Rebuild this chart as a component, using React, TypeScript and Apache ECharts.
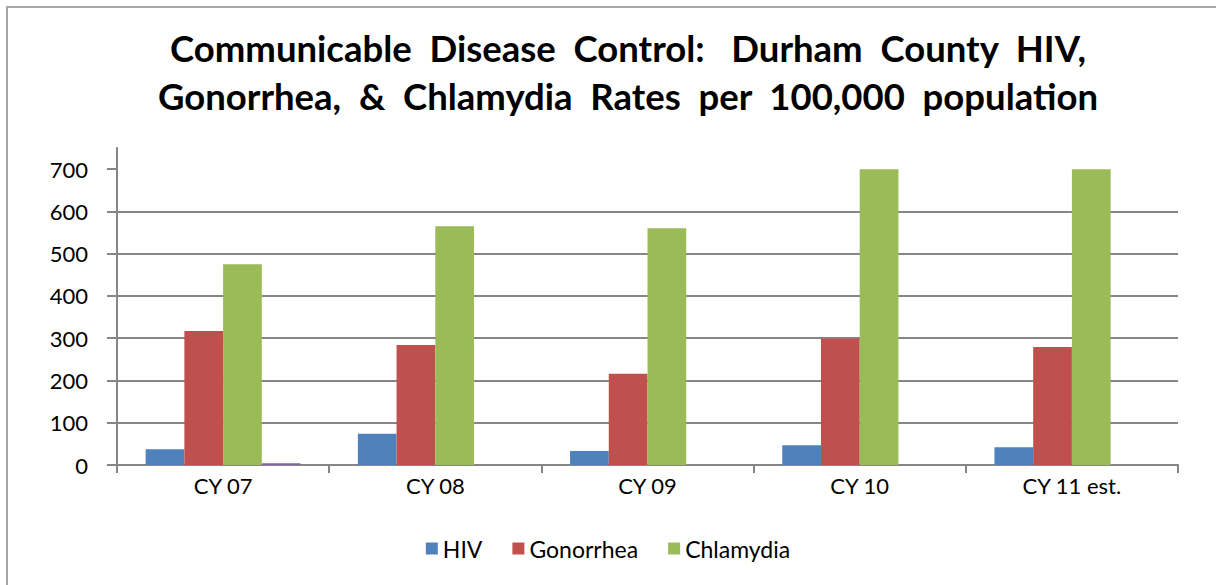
import React, { useEffect, useRef } from "react";
import * as echarts from "echarts";

const categories = ["CY 07", "CY 08", "CY 09", "CY 10", "CY 11 est."];
const hiv = [37, 74, 33, 47, 42];
const gonorrhea = [317, 284, 216, 299, 279];
const chlamydia = [475, 565, 560, 700, 700];
const other = [4, 0, 0, 0, 0];
const yTicks = [0, 100, 200, 300, 400, 500, 600, 700];

const FONT = "Lato, 'Open Sans', sans-serif";

export default function App() {
  const ref = useRef<HTMLDivElement>(null);
  useEffect(() => {
    document.body.style.margin = "0";
    if (!ref.current) return;
    const chart = echarts.init(ref.current, undefined, { renderer: "svg" });
    chart.setOption({
      animation: false,
      backgroundColor: "#ffffff",
      title: {
        text: "Communicable  Disease  Control:   Durham  County  HIV,\nGonorrhea,  &  Chlamydia  Rates  per  100,000  population",
        left: 623,
        textAlign: "center",
        top: 19,
        textStyle: {
          fontFamily: FONT,
          fontWeight: "bold",
          fontSize: 36.5,
          lineHeight: 48,
          color: "#000",
        },
      },
      graphic: [
        {
          type: "polyline",
          shape: { points: [[7, 600], [7, 7], [1230, 7]] },
          style: { stroke: "#a6a6a6", lineWidth: 2, fill: "none" },
          silent: true,
        },
      ],
      legend: {
        data: ["HIV", "Gonorrhea", "Chlamydia"],
        top: 532,
        left: "center",
        padding: [5, 0, 5, 14],
        itemWidth: 12,
        itemHeight: 12,
        itemGap: 30,
        icon: "rect",
        textStyle: { fontFamily: FONT, fontSize: 23, color: "#000" },
      },
      grid: { left: 117, right: 38, top: 148, bottom: 120 },
      xAxis: {
        type: "category",
        data: categories,
        axisLine: { lineStyle: { color: "#868686", width: 2 } },
        axisTick: { show: true, alignWithLabel: false, length: 8, lineStyle: { color: "#868686", width: 2 } },
        axisLabel: { fontFamily: FONT, fontSize: 22, color: "#000", margin: 9 },
      },
      yAxis: {
        type: "value",
        min: 0,
        max: 750,
        interval: 100,
        axisLine: { show: true, lineStyle: { color: "#868686", width: 2 } },
        axisTick: { show: true, length: 10, customValues: yTicks, lineStyle: { color: "#868686", width: 2 } },
        axisLabel: { fontFamily: FONT, fontSize: 22, color: "#000", margin: 29, customValues: yTicks },
        splitLine: { show: true, showMaxLine: false, lineStyle: { color: "#868686", width: 2 } },
      },
      series: [
        { name: "HIV", type: "bar", data: hiv, itemStyle: { color: "#4F81BD" }, barGap: "0%", barCategoryGap: "27%" },
        { name: "Gonorrhea", type: "bar", data: gonorrhea, itemStyle: { color: "#C0504D" }, barGap: "0%", barCategoryGap: "27%" },
        { name: "Chlamydia", type: "bar", data: chlamydia, itemStyle: { color: "#9BBB59" }, barGap: "0%", barCategoryGap: "27%" },
        { name: "Other", type: "bar", data: other, itemStyle: { color: "#8064A2" }, barGap: "0%", barCategoryGap: "27%" },
      ],
    });
    return () => chart.dispose();
  }, []);
  return <div ref={ref} style={{ width: 1216, height: 585 }} />;
}
